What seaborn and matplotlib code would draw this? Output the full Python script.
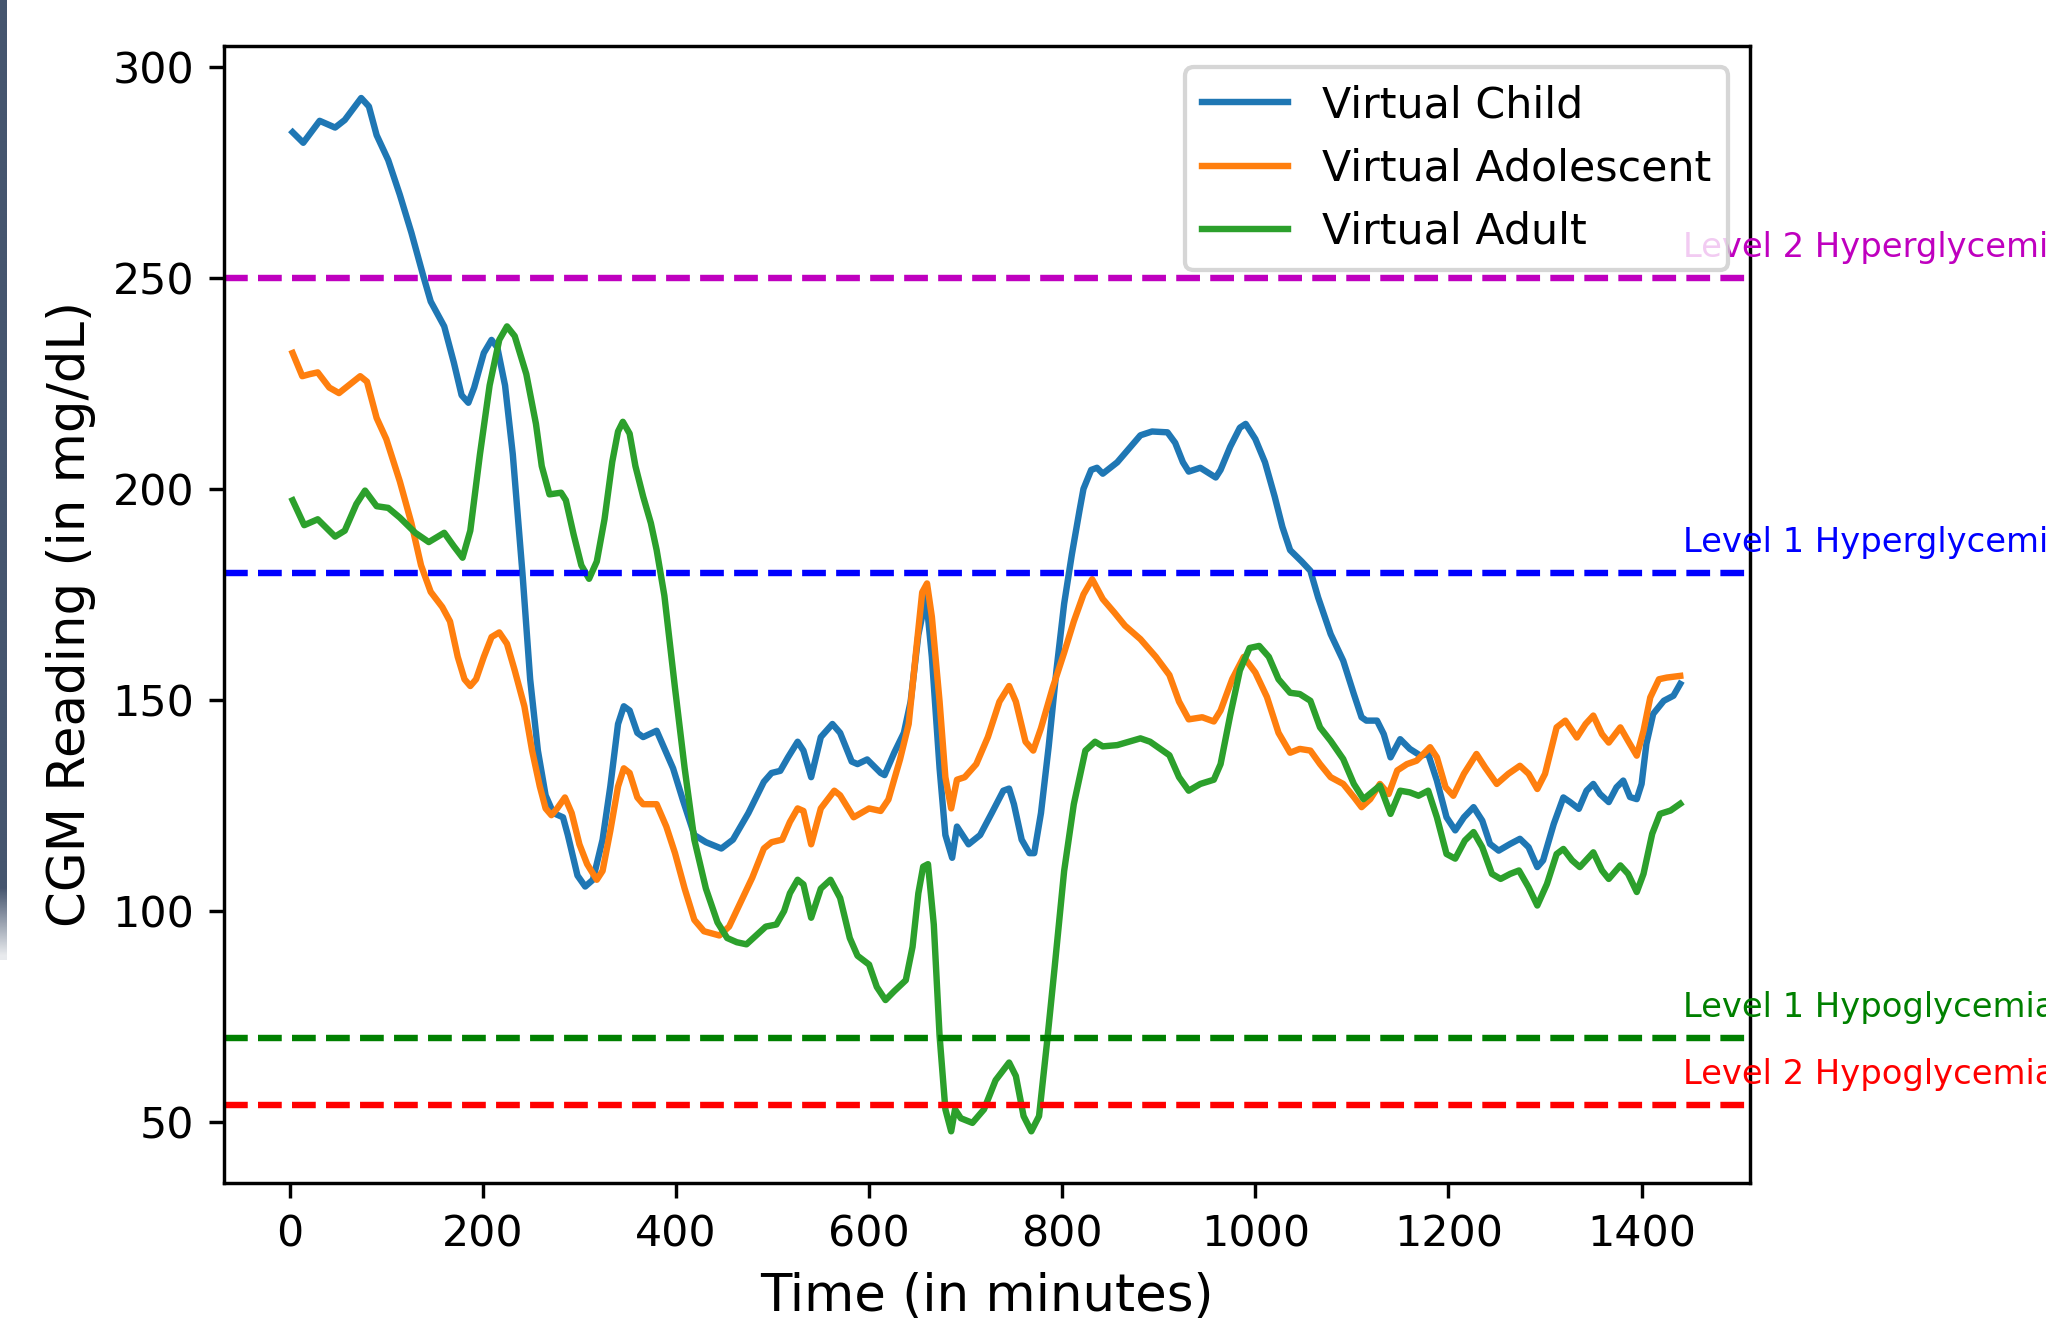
import matplotlib
matplotlib.use("Agg")
import matplotlib.pyplot as plt
import seaborn as sns
import numpy as np
import pandas as pd

# CGM traces (minutes, mg/dL)
child_t = [3, 14, 31, 47, 57, 74, 82, 90, 102, 114, 126, 138, 146, 160, 170, 178, 185, 191, 201, 209,
           215, 223, 231, 241, 249, 257, 265, 273, 283, 288, 298, 306, 314, 324, 332, 340, 346, 352, 360, 366,
           380, 388, 397, 407, 419, 431, 447, 459, 475, 491, 499, 508, 516, 526, 532, 540, 550, 562, 570, 582,
           588, 598, 612, 616, 626, 636, 643, 651, 659, 665, 673, 679, 686, 691, 703, 715, 727, 739, 745, 750,
           758, 766, 771, 778, 786, 794, 802, 810, 818, 822, 830, 836, 842, 857, 869, 881, 893, 909, 917, 925,
           931, 943, 959, 964, 974, 984, 990, 1000, 1010, 1020, 1028, 1036, 1048, 1057, 1065, 1078, 1091, 1102,
           1110, 1115, 1126, 1133, 1140, 1150, 1160, 1171, 1179, 1188, 1198, 1207, 1216, 1226, 1235, 1243, 1252,
           1264, 1274, 1283, 1292, 1298, 1309, 1319, 1326, 1335, 1343, 1350, 1357, 1366, 1374, 1381, 1388, 1395,
           1400, 1405, 1412, 1423, 1433, 1440]
child_v = [284.5, 282, 287.2, 285.6, 287.4, 292.6, 290.6, 283.8, 277.9, 269.7, 260.7, 250.7, 244.4, 238.5,
           229.9, 222.2, 220.4, 224, 232.2, 235.3, 233.5, 224.5, 208.2, 180.1, 154.9, 138, 127.4, 123.2, 122.2,
           118, 108.4, 105.8, 107.4, 116.9, 129.5, 144.3, 148.5, 147.5, 142.2, 141.2, 142.7, 138.5, 133.8, 126.4,
           118, 116.3, 114.8, 116.9, 123.2, 130.6, 132.7, 133.2, 136.4, 140.1, 138, 131.7, 141.2, 144.3, 142.2,
           135.4, 134.8, 135.9, 132.7, 132.2, 137.5, 142.2, 149.6, 165.4, 174.4, 160.2, 133.8, 118, 112.6, 120,
           115.8, 118, 123.2, 128.5, 129, 125.3, 116.9, 113.7, 113.7, 123.2, 139, 157, 172.8, 184.5, 195, 200,
           204.5, 205, 203.6, 206.3, 209.5, 212.7, 213.6, 213.4, 210.9, 206.3, 204.1, 205, 202.7, 204.5, 210,
           214.5, 215.4, 211.8, 206.3, 198.2, 191, 185.5, 182.8, 180.6, 174.3, 165.6, 159.3, 151.4, 145.9, 145.1,
           145.1, 141.9, 136.4, 140.7, 138.4, 136.8, 137.2, 130.9, 122.2, 119.1, 122.2, 124.6, 121.4, 115.9,
           114.3, 115.9, 117.1, 115.1, 110.4, 112, 120.6, 126.9, 125.8, 124.2, 128.5, 130.1, 127.7, 125.8, 129.3,
           130.9, 127, 126.5, 130.1, 139.6, 146.7, 149.8, 151, 153.8]

adol_t = [3, 13, 21, 29, 41, 51, 63, 73, 80, 90, 100, 114, 126, 136, 146, 158, 166, 174, 181, 187, 193, 201,
          209, 217, 225, 233, 243, 251, 259, 265, 271, 277, 285, 292, 300, 308, 318, 324, 332, 340, 346, 352,
          360, 366, 380, 390, 399, 409, 419, 429, 445, 455, 467, 479, 491, 499, 510, 518, 526, 532, 540, 550,
          564, 570, 584, 600, 612, 620, 632, 641, 649, 655, 660, 665, 673, 679, 685, 691, 699, 711, 723, 735,
          745, 752, 762, 770, 778, 790, 802, 812, 822, 831, 842, 854, 865, 881, 897, 911, 921, 931, 945, 957,
          964, 976, 988, 1000, 1012, 1024, 1036, 1046, 1057, 1067, 1078, 1091, 1102, 1110, 1119, 1129, 1138,
          1147, 1157, 1167, 1181, 1188, 1197, 1205, 1216, 1229, 1238, 1250, 1262, 1274, 1283, 1292, 1300, 1312,
          1321, 1333, 1342, 1350, 1359, 1366, 1378, 1386, 1395, 1402, 1409, 1418, 1426, 1440]
adol_v = [232.2, 226.7, 227.2, 227.6, 224, 222.7, 224.9, 226.7, 225.4, 216.8, 211.8, 201.8, 191.9, 181.9,
          175.6, 172, 168.6, 160.2, 154.9, 153.3, 154.9, 160.2, 164.9, 166, 163.3, 157, 148.5, 138, 129.5, 124.3,
          122.7, 124.3, 126.9, 123.2, 115.8, 111.1, 107.4, 109.5, 119, 129.5, 133.8, 132.7, 126.9, 125.3, 125.3,
          120, 113.7, 105.3, 97.9, 95.2, 94.2, 96.3, 102.1, 107.9, 114.8, 116.3, 116.9, 121.1, 124.3, 123.7,
          115.8, 124.3, 128.5, 127.4, 122.2, 124.3, 123.7, 126.4, 135.9, 144.3, 162.3, 175.5, 177.6, 169.7,
          149.6, 131.7, 124.3, 131.1, 131.7, 134.8, 141.2, 149.6, 153.3, 149.6, 140.1, 138, 143.3, 152.8, 161.2,
          168.6, 175, 178.6, 173.9, 170.7, 167.6, 164.4, 160.2, 155.9, 149.6, 145.4, 145.9, 144.9, 147.5, 154.9,
          160.2, 156.5, 150.7, 142.2, 137.5, 138.4, 138, 134.8, 131.7, 130.1, 127, 124.6, 126.5, 130.1, 127.7,
          133.3, 134.8, 135.6, 138.8, 136.4, 129.3, 127.3, 132.5, 137.2, 134, 130.1, 132.5, 134.4, 132.5, 128.9,
          132.5, 143.5, 145.1, 141.1, 144.3, 146.3, 141.9, 139.9, 143.5, 140.3, 136.8, 142.7, 150.6, 154.9,
          155.3, 155.7]

adult_t = [3, 15, 29, 47, 57, 69, 78, 90, 102, 114, 130, 144, 160, 170, 179, 187, 197, 207, 217, 225, 233,
           245, 255, 261, 269, 281, 286, 294, 302, 310, 318, 326, 334, 340, 345, 352, 358, 366, 374, 380, 388,
           399, 409, 419, 431, 443, 453, 463, 473, 483, 493, 504, 512, 518, 526, 532, 540, 550, 560, 570, 580,
           588, 600, 608, 617, 626, 638, 645, 651, 656, 661, 667, 673, 679, 685, 689, 695, 707, 719, 731, 745,
           752, 760, 768, 776, 784, 792, 802, 812, 824, 834, 842, 857, 869, 881, 891, 901, 911, 921, 931, 943,
           957, 964, 974, 984, 994, 1004, 1014, 1024, 1036, 1046, 1057, 1067, 1078, 1091, 1102, 1112, 1129,
           1140, 1150, 1160, 1169, 1179, 1188, 1198, 1207, 1217, 1226, 1235, 1245, 1254, 1264, 1273, 1283, 1292,
           1302, 1312, 1319, 1328, 1336, 1350, 1359, 1366, 1378, 1386, 1395, 1402, 1411, 1419, 1430, 1440]
adult_v = [197.3, 191.4, 192.8, 188.7, 190.1, 196.4, 199.6, 195.9, 195.5, 193.2, 189.6, 187.4, 189.6, 186.4,
           183.7, 190.1, 208.2, 224.5, 235.3, 238.5, 236.2, 227.2, 215.4, 205.4, 198.7, 199.1, 197.3, 189.2,
           181.9, 178.7, 182.8, 192.8, 206.4, 213.6, 215.9, 213.1, 205.4, 198.2, 191.9, 185.5, 174.7, 152.8,
           133.8, 116.9, 105.3, 97.3, 93.6, 92.6, 92.1, 94.2, 96.3, 96.8, 100, 104.2, 107.4, 106.3, 98.4, 105.3,
           107.4, 103.1, 93.6, 89.4, 87.3, 82, 78.9, 81, 83.6, 91.5, 104.2, 110.5, 111.1, 96.8, 70.4, 53, 47.8,
           53, 50.9, 49.8, 53, 59.9, 64.1, 60.9, 51.4, 47.8, 51.4, 68.3, 86.3, 109.5, 125.3, 138, 140.1, 139,
           139.3, 140.1, 140.9, 140.1, 138.5, 136.9, 131.7, 128.5, 130.1, 131.1, 134.8, 146.4, 157, 162.3, 162.8,
           160.2, 154.9, 151.7, 151.4, 149.8, 143.5, 140.3, 136, 130.1, 126.5, 129.7, 123, 128.5, 128.1, 127.3,
           128.5, 122.2, 113.5, 112.4, 116.7, 118.7, 115.1, 108.8, 107.6, 108.8, 109.6, 105.6, 101.3, 106.4,
           113.5, 114.7, 112, 110.4, 113.9, 109.6, 107.6, 110.8, 108.8, 104.5, 108.8, 118.3, 123, 123.8, 125.4]

series_names = ["Virtual Child", "Virtual Adolescent", "Virtual Adult"]
series_colors = ["#1f77b4", "#ff7f0e", "#2ca02c"]

# glycemic thresholds
threshold_values = [250, 180, 70, 54]
threshold_labels = ["Level 2 Hyperglycemia", "Level 1 Hyperglycemia",
                    "Level 1 Hypoglycemia", "Level 2 Hypoglycemia"]
threshold_colors = ["m", "b", "g", "r"]

DPI = 308
fig = plt.figure(figsize=(2046 / DPI, 1328 / DPI), dpi=DPI)
ax = fig.add_axes([0.1097, 0.109, 0.8552 - 0.1097, 0.9656 - 0.109])

for t, v, name, col in zip([child_t, adol_t, adult_t], [child_v, adol_v, adult_v],
                           series_names, series_colors):
    df = pd.DataFrame({"time": t, "cgm": v})
    sns.lineplot(data=df, x="time", y="cgm", color=col, label=name, linewidth=1.5, ax=ax)

for val, lab, col in zip(threshold_values, threshold_labels, threshold_colors):
    ax.axhline(val, color=col, linestyle="--", linewidth=1.5)
    ax.text(1443, val + 5, lab, color=col, fontsize=7.9)

ax.set_xlim(-67.6, 1512)
ax.set_ylim(35.5, 305)
ax.set_xlabel("Time (in minutes)", fontsize=12)
ax.set_ylabel("CGM Reading (in mg/dL)", fontsize=12)
ax.tick_params(labelsize=10)
ax.legend(loc="upper right", fontsize=10)

# dark window edge visible at the left of the screenshot
edge = fig.add_axes([0, 1 - 960 / 1328, 6 / 2046, 960 / 1328])
grad = np.ones((100, 1, 4))
grad[:, 0, :3] = np.array([0x45, 0x55, 0x6e]) / 255
grad[:, 0, 3] = np.clip((100 - np.arange(100)) / 8.0, 0, 1)
edge.imshow(grad, aspect="auto", interpolation="bilinear")
edge.set_axis_off()

fig.savefig("out.png", dpi=DPI)
